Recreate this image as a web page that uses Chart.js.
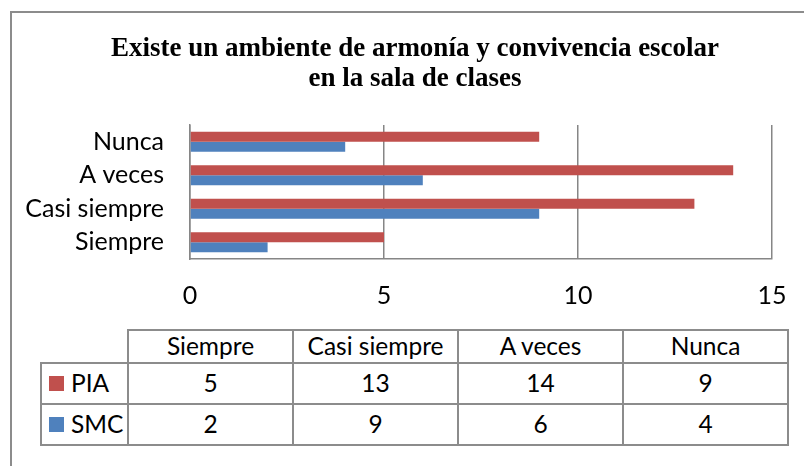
<!DOCTYPE html>
<html>
<head>
<meta charset="utf-8">
<script src="https://cdn.jsdelivr.net/npm/chart.js@4/dist/chart.umd.min.js"></script>
<style>
  body { margin: 0; background: #fff; width: 804px; height: 466px; overflow: hidden; position: relative; }
  #frame { position: absolute; left: 10px; top: 11px; width: 900px; height: 600px; border: 2px solid #8c8c8c; }
  #chart { position: absolute; left: 0; top: 0; }
  #title { position: absolute; left: 26px; top: 32px; width: 778px; text-align: center; color: #000;
           font: bold 27px/30px 'Liberation Serif', serif; }
  #table { position: absolute; left: 40px; top: 329px; border-collapse: collapse; table-layout: fixed;
           font-family: Lato, sans-serif; font-size: 24.5px; color: #000; }
  #table td { border: 2px solid #8c8c8c; text-align: center; padding: 0; line-height: 1; }
  #table tr.head td { height: 31px; }
  #table tr.row td { height: 39px; }
  #table td.corner { border-top: none; border-left: none; }
  #table td.name { text-align: left; padding-left: 7px; white-space: nowrap; }
  .key { display: inline-block; width: 15px; height: 15px; margin-right: 7px; vertical-align: 1px; }
</style>
</head>
<body>
<div id="frame"></div>
<canvas id="chart" width="804" height="320"></canvas>
<div id="title"></div>
<table id="table"></table>
<script>
const categories = ["Siempre", "Casi siempre", "A veces", "Nunca"];
const seriesNames = ["PIA", "SMC"];
const piaValues = [5, 13, 14, 9];
const smcValues = [2, 9, 6, 4];
const xTicks = [0, 5, 10, 15];
const seriesColors = ["#C0504D", "#4F81BD"];
const title = ["Existe un ambiente de armonía y convivencia escolar", "en la sala de clases"];

const sans = "Lato, sans-serif";
const gridColor = "#868686";

document.getElementById("title").innerHTML = title.join("<br>");

// data table under the chart
const table = document.getElementById("table");
const cols = '<colgroup><col style="width:87px">' + categories.map(() => '<col style="width:165px">').join("") + "</colgroup>";
let html = cols + '<tr class="head"><td class="corner"></td>' + categories.map(c => "<td>" + c + "</td>").join("") + "</tr>";
[piaValues, smcValues].forEach((vals, i) => {
  html += '<tr class="row"><td class="name"><span class="key" style="background:' + seriesColors[i] + '"></span>' + seriesNames[i] + "</td>";
  html += vals.map(v => "<td>" + v + "</td>").join("") + "</tr>";
});
table.innerHTML = html;

new Chart(document.getElementById("chart"), {
  type: "bar",
  data: {
    labels: categories,
    datasets: [
      { label: seriesNames[0], data: piaValues, backgroundColor: seriesColors[0] },
      { label: seriesNames[1], data: smcValues, backgroundColor: seriesColors[1] }
    ]
  },
  options: {
    indexAxis: "y",
    responsive: false,
    animation: false,
    layout: { padding: { left: 20, right: 32, top: 125, bottom: 1 } },
    datasets: { bar: { categoryPercentage: 0.6, barPercentage: 1 } },
    plugins: {
      legend: { display: false },
      tooltip: { enabled: false },
      title: { display: false }
    },
    scales: {
      x: {
        min: 0,
        max: 15,
        afterBuildTicks: s => { s.ticks = xTicks.map(v => ({ value: v })); },
        afterFit: s => { s.height = 60; s.paddingLeft = 0; s.paddingRight = 0; },
        ticks: { padding: 22, color: "#000", font: { family: sans, size: 25 } },
        grid: { color: gridColor, lineWidth: 1.5, drawTicks: false },
        border: { color: gridColor, width: 1.5 }
      },
      y: {
        reverse: true,
        afterFit: s => { s.width = 170; },
        ticks: { autoSkip: false, padding: 26, color: "#000", font: { family: sans, size: 25 } },
        grid: { display: false, drawTicks: false },
        border: { color: gridColor, width: 1.5 }
      }
    }
  }
});
</script>
</body>
</html>
